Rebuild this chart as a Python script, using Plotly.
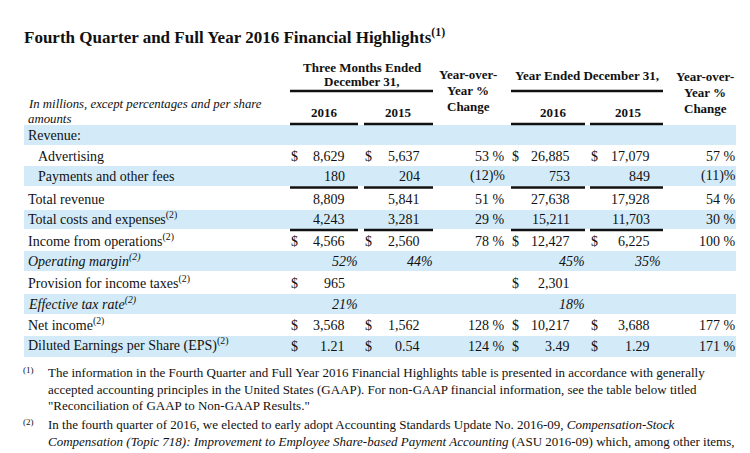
import plotly.graph_objects as go

# ---------------- data ----------------
row_labels = ["Revenue:", "Advertising", "Payments and other fees", "Total revenue",
              "Total costs and expenses<sup>(2)</sup>", "Income from operations<sup>(2)</sup>",
              "Operating margin<sup>(2)</sup>", "Provision for income taxes<sup>(2)</sup>",
              "Effective tax rate<sup>(2)</sup>", "Net income<sup>(2)</sup>",
              "Diluted Earnings per Share (EPS)<sup>(2)</sup>"]
row_kind = ["section", "usd", "usd", "usd", "usd", "usd", "ratio", "usd", "ratio", "usd", "eps"]
row_indent = [0, 1, 1, 0, 0, 0, 0, 0, 0, 0, 0]
row_dollar = [False, True, False, False, False, True, False, True, False, True, True]

q4_2016 = [None, 8629, 180, 8809, 4243, 4566, 52, 965, 21, 3568, 1.21]
q4_2015 = [None, 5637, 204, 5841, 3281, 2560, 44, None, None, 1562, 0.54]
q4_yoy = [None, 53, -12, 51, 29, 78, None, None, None, 128, 124]
fy_2016 = [None, 26885, 753, 27638, 15211, 12427, 45, 2301, 18, 10217, 3.49]
fy_2015 = [None, 17079, 849, 17928, 11703, 6225, 35, None, None, 3688, 1.29]
fy_yoy = [None, 57, -11, 54, 30, 100, None, None, None, 177, 171]

title_text = "Fourth Quarter and Full Year 2016 Financial Highlights"
group_q4 = ["Three Months Ended", "December 31,"]
group_fy = "Year Ended December 31,"
yoy_head = ["Year-over-", "Year %", "Change"]
year_heads = ["2016", "2015", "2016", "2015"]
units_note = ["In millions, except percentages and per share", "amounts"]
footnotes = [
    ("(1)", ["The information in the Fourth Quarter and Full Year 2016 Financial Highlights table is presented in accordance with generally",
             "accepted accounting principles in the United States (GAAP). For non-GAAP financial information, see the table below titled",
             "\"Reconciliation of GAAP to Non-GAAP Results.\""]),
    ("(2)", ["In the fourth quarter of 2016, we elected to early adopt Accounting Standards Update No. 2016-09, <i>Compensation-Stock</i>",
             "<i>Compensation (Topic 718): Improvement to Employee Share-based Payment Accounting</i> (ASU 2016-09) which, among other items,"]),
]

# ---------------- layout / style ----------------
W, H = 750, 453
SERIF = "Liberation Serif"
INK = "#111111"
BAND = "#d3ebf8"
BODY = 14
HEAD = 13

row_top = [117, 137, 158, 180, 202, 223, 243, 265, 286, 307, 328]
row_bot = [137, 158, 178, 202, 221, 243, 263, 286, 306, 328, 349]
row_y = [127, 148, 168, 191, 211, 233, 253, 275, 296, 317, 338]
band_x = (16, 728)

# column geometry: (start x, number right edge, ratio right edge)
cols = [(282, 337, 350), (356, 412, 425), (503, 562, 577), (582, 642, 653)]
col_span = [(282, 350), (356, 425), (503, 577), (582, 655)]
yoy_right = [497, 728]

fig = go.Figure()
fig.add_trace(go.Scatter(x=[0, W], y=[0, H], mode="markers", marker=dict(opacity=0),
                         hoverinfo="skip", showlegend=False))

shapes = []
ann = []


def text(x, y, s, size=BODY, anchor="left", bold=False, italic=False):
    # y is the visual middle of the line; anchor on the box bottom so that
    # superscripts do not shift the baseline
    ann.append(dict(x=x, y=y + 0.553 * size, xref="x", yref="y", text=s, showarrow=False,
                    xanchor=anchor, yanchor="bottom", borderpad=0, borderwidth=0,
                    font=dict(family=SERIF, size=size, color=INK,
                              weight="bold" if bold else "normal",
                              style="italic" if italic else "normal")))


def hline(x0, x1, y, w=2.5):
    shapes.append(dict(type="line", xref="x", yref="y", x0=x0, x1=x1, y0=y, y1=y,
                       line=dict(color=INK, width=w)))


# bands
for i in range(len(row_labels)):
    if i % 2 == 0:
        shapes.append(dict(type="rect", xref="x", yref="y", x0=band_x[0], x1=band_x[1],
                           y0=row_top[i], y1=row_bot[i], fillcolor=BAND, line=dict(width=0),
                           layer="below"))

# title
text(16, 30, title_text + "<sup>(1)</sup>", size=17, bold=True)

# headers
text(354, 60, group_q4[0], size=HEAD, anchor="center", bold=True)
text(354, 74, group_q4[1], size=HEAD, anchor="center", bold=True)
text(579, 68, group_fy, size=HEAD, anchor="center", bold=True)
for cx, y0 in ((460, 67), (697, 69)):
    for k, s in enumerate(yoy_head):
        text(cx, y0 + 16 * k, s, size=HEAD, anchor="center", bold=True)
hline(282, 425, 83)
hline(503, 655, 83)
year_cx = [316, 390, 545, 620]
for cx, s in zip(year_cx, year_heads):
    text(cx, 105, s, size=HEAD, anchor="center", bold=True)
for (a, b) in col_span:
    hline(a, b, 116)
text(20, 96, units_note[0], size=12.8, italic=True)
text(20, 110.5, units_note[1], size=12.8, italic=True)


def fmt(v, kind):
    if v is None:
        return ""
    if kind == "eps":
        return f"{v:.2f}"
    if kind == "ratio":
        return f"{v:d}%"
    return f"{v:,}"


def fmt_pct(v):
    if v is None:
        return ""
    return f"({-v})%" if v < 0 else f"{v} %"


series = [q4_2016, q4_2015, fy_2016, fy_2015]
for i, lab in enumerate(row_labels):
    kind = row_kind[i]
    text(20 + 10 * row_indent[i], row_y[i], lab, italic=(kind == "ratio"))
    for c, vals in enumerate(series):
        v = vals[i]
        if v is None:
            continue
        start, nr, rr = cols[c]
        if kind == "ratio":
            text(rr, row_y[i], fmt(v, kind), anchor="right", italic=True)
        else:
            text(nr, row_y[i], fmt(v, kind), anchor="right")
            if row_dollar[i]:
                text(start + 1, row_y[i], "$")
    for j, vals in enumerate([q4_yoy, fy_yoy]):
        if vals[i] is not None:
            text(yoy_right[j], row_y[i], fmt_pct(vals[i]), anchor="right")

# subtotal underlines
for y in (179.5, 222):
    for (a, b) in col_span:
        hline(a, b, y)

# footnotes
fy0 = [365, 417]
for n, (mark, lines) in enumerate(footnotes):
    text(15, fy0[n] - 3, mark, size=9)
    for k, s in enumerate(lines):
        text(40, fy0[n] + 16.5 * k, s, size=13)

fig.update_layout(
    width=W, height=H, margin=dict(l=0, r=0, t=0, b=0),
    paper_bgcolor="white", plot_bgcolor="white",
    xaxis=dict(range=[0, W], visible=False, fixedrange=True),
    yaxis=dict(range=[H, 0], visible=False, fixedrange=True),
    shapes=shapes, annotations=ann, showlegend=False,
)
fig.write_html("out.html")
